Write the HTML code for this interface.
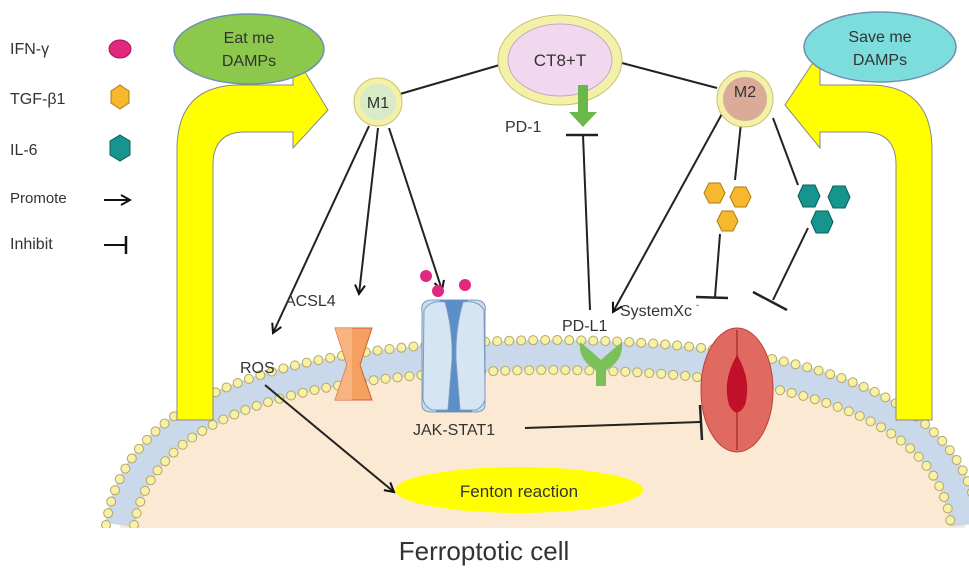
<!DOCTYPE html>
<html><head><meta charset="utf-8"><style>
body{margin:0;background:#fff}
svg text{font-family:"Liberation Sans",sans-serif;fill:#333}
</style></head><body>
<svg width="969" height="582" viewBox="0 0 969 582" xmlns="http://www.w3.org/2000/svg">
<defs>
<marker id="ah" markerWidth="12" markerHeight="12" refX="10" refY="6" orient="auto" markerUnits="userSpaceOnUse">
<path d="M1,1 L10,6 L1,11" fill="none" stroke="#111" stroke-width="2"/></marker>
<clipPath id="cl"><rect x="0" y="0" width="969" height="528"/></clipPath>
</defs>
<g clip-path="url(#cl)">
<path d="M120,560 L120,525 C140,400 300,358 545,355 C790,355 950,400 965,525 L965,560Z" fill="#fbe9d3"/>
<path d="M120,525 C140,400 300,358 545,355 C790,355 950,400 965,525" fill="none" stroke="#c9d8ea" stroke-width="30"/>
<g fill="none" stroke-linecap="round" stroke-dasharray="0 12">
<path d="M106,525 C126,388 296,343 545,340 C794,340 964,388 979,525" stroke="#b5a860" stroke-width="10"/>
<path d="M106,525 C126,388 296,343 545,340 C794,340 964,388 979,525" stroke="#f7f0a6" stroke-width="8"/>
<path d="M134,525 C154,412 304,372 545,370 C786,370 936,412 951,525" stroke="#b5a860" stroke-width="10"/>
<path d="M134,525 C154,412 304,372 545,370 C786,370 936,412 951,525" stroke="#f7f0a6" stroke-width="8"/>
</g>
</g>
<text x="484" y="560" font-size="26" text-anchor="middle">Ferroptotic  cell</text>
<!-- yellow arrows -->
<path d="M177,420 L177,150 Q177,85 240,85 L293,85 L293,52 L328,110 L293,148 L293,132 L245,132 Q213,132 213,165 L213,420Z" fill="#ffff00" stroke="#888" stroke-width="1"/>
<path d="M932,420 L932,150 Q932,85 869,85 L820,85 L820,52 L785,105 L820,148 L820,132 L864,132 Q896,132 896,165 L896,420Z" fill="#ffff00" stroke="#888" stroke-width="1"/>
<!-- legend -->
<g font-size="16">
<text x="10" y="54">IFN-γ</text><text x="10" y="104">TGF-β1</text><text x="10" y="155">IL-6</text>
<text x="10" y="203" font-size="15">Promote</text><text x="10" y="249">Inhibit</text></g>
<ellipse cx="120" cy="49" rx="11" ry="9" fill="#e0287f" stroke="#a0185a"/>
<polygon points="120,85 129,91 129,103 120,109 111,103 111,91" fill="#f7b72e" stroke="#b07a10"/>
<polygon points="120,135 130,141 130,155 120,161 110,155 110,141" fill="#16948e" stroke="#0b5e5a"/>
<line x1="104" y1="200" x2="130" y2="200" stroke="#111" stroke-width="2" marker-end="url(#ah)"/>
<line x1="104" y1="245" x2="126" y2="245" stroke="#111" stroke-width="2"/><line x1="126" y1="236" x2="126" y2="254" stroke="#111" stroke-width="2.5"/>
<!-- ellipses -->
<ellipse cx="249" cy="49" rx="75" ry="35" fill="#8cc84b" stroke="#6f8fb0" stroke-width="1.5"/>
<text x="249" y="43" font-size="16" text-anchor="middle">Eat me</text><text x="249" y="66" font-size="16" text-anchor="middle">DAMPs</text>
<ellipse cx="880" cy="47" rx="76" ry="35" fill="#7ddcdc" stroke="#6f8fb0" stroke-width="1.5"/>
<text x="880" y="42" font-size="16" text-anchor="middle">Save me</text><text x="880" y="65" font-size="16" text-anchor="middle">DAMPs</text>
<!-- connecting lines -->
<g stroke="#222" stroke-width="2" fill="none">
<line x1="400" y1="94" x2="503" y2="64"/><line x1="622" y1="63" x2="717" y2="88"/>
<line x1="369" y1="126" x2="273" y2="333" marker-end="url(#ah)"/>
<line x1="378" y1="128" x2="359" y2="294" marker-end="url(#ah)"/>
<line x1="389" y1="128" x2="442" y2="290" marker-end="url(#ah)"/>
<line x1="583" y1="135" x2="590" y2="310"/><line x1="566" y1="135" x2="598" y2="135" stroke-width="2.5"/>
<line x1="723" y1="112" x2="613" y2="312" marker-end="url(#ah)"/>
<line x1="741" y1="123" x2="735" y2="180"/>
<line x1="720" y1="234" x2="715" y2="297"/><line x1="696" y1="297" x2="728" y2="298" stroke-width="2.5"/>
<line x1="773" y1="118" x2="798" y2="185"/>
<line x1="808" y1="228" x2="773" y2="300"/><line x1="753" y1="292" x2="787" y2="310" stroke-width="2.5"/>
<line x1="525" y1="428" x2="700" y2="422"/><line x1="700" y1="405" x2="702" y2="440" stroke-width="2.5"/>
<line x1="265" y1="385" x2="394" y2="492" marker-end="url(#ah)"/>
</g>
<!-- cells -->
<ellipse cx="560" cy="60" rx="62" ry="45" fill="#f3f0a8" stroke="#c8c070"/>
<ellipse cx="560" cy="60" rx="52" ry="36" fill="#f2d8ef" stroke="#c8a8c8"/>
<text x="560" y="66" font-size="17" text-anchor="middle">CT8+T</text>
<circle cx="378" cy="102" r="24" fill="#f3f0a8" stroke="#c8c070"/><circle cx="378" cy="102" r="18" fill="#d8ebc8"/>
<text x="378" y="108" font-size="16" text-anchor="middle">M1</text>
<circle cx="745" cy="99" r="28" fill="#f3f0a8" stroke="#c8c070"/><circle cx="745" cy="99" r="22" fill="#d9ab98"/>
<text x="745" y="97" font-size="16" text-anchor="middle">M2</text>
<path d="M578,85 L588,85 L588,112 L597,112 L583,127 L569,112 L578,112Z" fill="#6ab84a"/>
<text x="505" y="132" font-size="16">PD-1</text>
<!-- hexes -->
<g fill="#f7b72e" stroke="#b07a10">
<polygon points="704,193 709,183 720,183 725,193 720,203 709,203"/>
<polygon points="730,197 735,187 746,187 751,197 746,207 735,207"/>
<polygon points="717,221 722,211 733,211 738,221 733,231 722,231"/></g>
<g fill="#16948e" stroke="#0b5e5a">
<polygon points="798,196 803,185 815,185 820,196 815,207 803,207"/>
<polygon points="828,197 833,186 845,186 850,197 845,208 833,208"/>
<polygon points="811,222 816,211 828,211 833,222 828,233 816,233"/></g>
<!-- labels -->
<text x="285" y="306" font-size="16">ACSL4</text>
<text x="240" y="373" font-size="16">ROS</text>
<text x="413" y="435" font-size="16">JAK-STAT1</text>
<text x="562" y="331" font-size="16">PD-L1</text>
<text x="620" y="316" font-size="16">SystemXc</text><text x="696" y="308" font-size="9">-</text>
<!-- ACSL4 channel -->
<path d="M335,328 L372,328 L360,365 L372,400 L335,400 L347,365Z" fill="#f4a060" stroke="#d06030"/>
<path d="M335,328 L352,328 L352,400 L335,400 L347,365Z" fill="#f7b888" opacity=".8"/>
<!-- JAK receptor -->
<path d="M422,312 Q420,300 432,300 L475,300 Q487,300 485,312 L485,405 Q485,412 475,412 L432,412 Q422,412 422,405Z" fill="#c9dcef" stroke="#7d9cc0"/>
<path d="M440,300 L468,300 L468,340 L472,412 L436,412 L440,340Z" fill="#5a8fc8"/>
<path d="M424,310 Q430,300 445,302 Q453,330 452,360 L448,410 L432,410 Q422,405 423,395Z" fill="#d6e5f4" stroke="#7d9cc0"/>
<path d="M484,310 Q478,300 463,302 Q455,330 456,360 L460,410 L476,410 Q486,405 485,395Z" fill="#d6e5f4" stroke="#7d9cc0"/>
<g fill="#e0287f"><circle cx="426" cy="276" r="6"/><circle cx="438" cy="291" r="6"/><circle cx="465" cy="285" r="6"/></g>
<!-- PD-L1 -->
<path d="M580,342 Q578,360 596,370 L596,386 L606,386 L606,370 Q624,360 622,342 Q612,350 601,360 Q590,350 580,342Z" fill="#7cc05a"/>
<!-- SystemXc -->
<ellipse cx="737" cy="390" rx="36" ry="62" fill="#e06a60" stroke="#b84040"/>
<path d="M737,330 L737,450" stroke="#b84040" stroke-width="2"/>
<path d="M737,355 Q752,380 745,405 Q737,420 729,405 Q722,380 737,355Z" fill="#c0102a"/>
<!-- Fenton -->
<ellipse cx="519" cy="490" rx="124" ry="23" fill="#ffff00"/>
<text x="519" y="497" font-size="17" text-anchor="middle">Fenton reaction</text>
</svg>
</body></html>
